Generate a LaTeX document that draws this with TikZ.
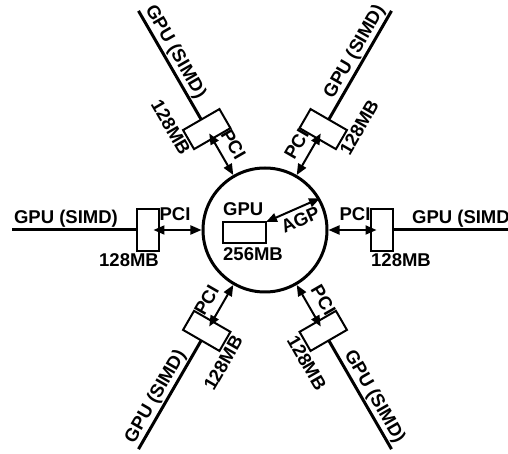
\documentclass[tikz,border=0pt]{standalone}
\usepackage{fontspec}
\setmainfont{Liberation Sans}
\usetikzlibrary{positioning,arrows.meta,calc}

\begin{document}
\begin{tikzpicture}[
    x=1pt, y=1pt,
    font=\fontsize{18.5}{20}\selectfont\bfseries,
    hub/.style={circle, draw, line width=3pt, minimum size=124pt, inner sep=0pt},
    membox/.style={rectangle, draw, line width=2pt, minimum width=22pt,
                   minimum height=42pt, inner sep=0pt, outer sep=0pt},
    spoke/.style={line width=3pt},
    bus/.style={line width=2pt,
                {Triangle[length=11pt,width=9pt]}-{Triangle[length=11pt,width=9pt]}},
    lbl/.style={inner sep=1pt}
  ]
  \useasboundingbox (-265,-224) rectangle (243,230);

  % central GPU and its memory
  \node[hub] (hub) at (0,0) {};
  \node[membox, minimum width=43pt, minimum height=21pt, anchor=north east] (gmem) at (1,8) {};
  \node[lbl, inner sep=0pt, anchor=south west] (gpu) at ([yshift=6pt]gmem.north west) {GPU};
  \node[lbl, inner sep=0pt, anchor=north west] (gsize) at ([yshift=-4pt]gmem.south west) {256MB};
  \draw[bus] (gmem.north east) -- (hub.30)
    node[lbl, pos=0.55, sloped, below, inner sep=4pt] {AGP};

  % six SIMD boards on PCI
  \foreach \a/\t [count=\i] in {0/0,60/60,120/-60,180/0,240/60,300/-60} {
    \node[membox, rotate=\a] (mem\i) at (\a:116.5) {};
    \coordinate (end\i) at (\a:253);
    \draw[spoke] (mem\i.east) -- (end\i)
      node[lbl, pos=0.57, sloped, above] {GPU (SIMD)};
    \draw[bus, shorten >=5pt] (hub.\a) -- (mem\i.center)
      node[lbl, midway, sloped, above, inner sep=8pt] {PCI};
    \node[lbl, inner sep=2.5pt, rotate=\t, anchor=north] (size\i)
      at ($(\a:136)+(\t-90:21)$) {128MB};
  }
\end{tikzpicture}
\end{document}
